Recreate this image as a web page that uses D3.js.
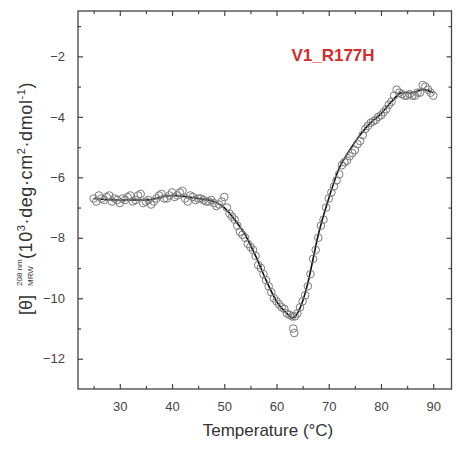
<!DOCTYPE html>
<html lang="en">
<head>
  <meta charset="UTF-8" />
  <title>V1_R177H thermal melt</title>
  <script src="https://d3js.org/d3.v7.min.js"></script>
  <style>
    body { margin: 0; background: #fff; }
    text { font-family: Arial, "Liberation Sans", sans-serif; fill: #333; }
    .frame { fill: none; stroke: #444; stroke-width: 1.3px; }
    .axis path { display: none; }
    .axis line { stroke: #444; stroke-width: 1.2px; }
    .axis text { font-size: 13px; fill: #444; }
  </style>
</head>
<body>
  <svg id="chart" width="456" height="450"></svg>

  <script>
    // measured points (temperature in °C, ellipticity in 10^3 deg cm2 dmol-1)
    const temps = [
      25, 25.5, 26, 26.5, 27, 27.5, 28, 28.5, 29, 29.5, 30, 30.5, 31, 31.5, 32, 32.5,
      33, 33.5, 34, 34.5, 35, 35.5, 36, 36.5, 37, 37.5, 38, 38.5, 39, 39.5, 40, 40.5,
      41, 41.5, 42, 42.5, 43, 43.5, 44, 44.5, 45, 45.5, 46, 46.5, 47, 47.5, 48, 48.5,
      49, 49.5, 50, 50.5, 51, 51.5, 52, 52.5, 53, 53.5, 54, 54.5, 55, 55.5, 56, 56.5,
      57, 57.5, 58, 58.5, 59, 59.5, 60, 60.5, 61, 61.5, 62, 62.5, 63, 63.2, 63.4, 63.5,
      64, 64.5, 65, 65.5, 66, 66.5, 67, 67.5, 68, 68.5, 69, 69.5, 70, 70.5, 71, 71.5,
      72, 72.5, 73, 73.5, 74, 74.5, 75, 75.5, 76, 76.5, 77, 77.5, 78, 78.5, 79, 79.5,
      80, 80.5, 81, 81.5, 82, 82.5, 83, 83.5, 84, 84.5, 85, 85.5, 86, 86.5, 87, 87.5,
      88, 88.5, 89, 89.5, 90];
    const theta = [
      -6.7, -6.8, -6.6, -6.7, -6.75, -6.65, -6.6, -6.8, -6.7, -6.75, -6.85, -6.7, -6.75, -6.65, -6.6, -6.8,
      -6.75, -6.6, -6.55, -6.85, -6.8, -6.75, -6.9, -6.8, -6.7, -6.6, -6.55, -6.7, -6.7, -6.6, -6.5, -6.65,
      -6.6, -6.5, -6.45, -6.7, -6.8, -6.6, -6.65, -6.75, -6.7, -6.7, -6.75, -6.8, -6.8, -6.75, -6.85, -6.95,
      -6.9, -6.8, -6.65, -7.0, -7.2, -7.3, -7.4, -7.6, -7.8, -7.9, -8.0, -8.2, -8.3, -8.4, -8.6, -8.9,
      -9.0, -9.2, -9.4, -9.6, -9.8, -10.0, -10.1, -10.2, -10.3, -10.35, -10.5, -10.55, -10.6, -11.0, -11.15, -10.6,
      -10.5, -10.3, -10.1, -9.9, -9.6, -9.2, -8.7, -8.4, -8.0, -7.6, -7.4, -7.0, -6.7, -6.5, -6.3, -6.1,
      -5.9, -5.6, -5.5, -5.45, -5.3, -5.2, -5.1, -4.9, -4.8, -4.6, -4.4, -4.3, -4.2, -4.15, -4.1, -4.0,
      -3.95, -3.85, -3.75, -3.6, -3.5, -3.3, -3.1, -3.2, -3.25, -3.3, -3.3, -3.25, -3.3, -3.3, -3.2, -3.2,
      -2.95, -3.0, -3.1, -3.2, -3.3];

    // fitted curve
    const fitT = [25, 30, 35, 40, 45, 48, 50, 52, 54, 56, 58, 60, 62, 63, 64, 65,
      66, 67, 68, 70, 72, 74, 76, 78, 80, 82, 84, 86, 88, 90];
    const fitV = [-6.7, -6.75, -6.75, -6.6, -6.7, -6.8, -7.0, -7.4, -7.9, -8.6,
      -9.4, -10.1, -10.5, -10.65, -10.5, -10.1, -9.5, -8.7, -7.9, -6.7, -5.7, -5.1,
      -4.6, -4.2, -3.9, -3.5, -3.2, -3.2, -3.1, -3.2];

    const xMajor = [30, 40, 50, 60, 70, 80, 90];
    const xMinor = [25, 35, 45, 55, 65, 75, 85];
    const yMajor = [-2, -4, -6, -8, -10, -12];
    const yMinor = [-1, -3, -5, -7, -9, -11];

    const mLeft = 78, mRight = 451.5, mTop = 11, mBottom = 389;

    const svg = d3.select("#chart");

    const x = d3.scaleLinear().domain([22, 93.5]).range([mLeft, mRight]);
    const y = d3.scaleLinear().domain([-13, -0.5]).range([mBottom, mTop]);

    // frame
    svg.append("rect")
      .attr("class", "frame")
      .attr("x", mLeft)
      .attr("y", mTop)
      .attr("width", mRight - mLeft)
      .attr("height", mBottom - mTop);

    // ticks on all four sides, pointing in
    function ticks(axisFn, scale, values, size, tx, ty, labels) {
      return svg.append("g")
        .attr("class", "axis")
        .attr("transform", `translate(${tx},${ty})`)
        .call(axisFn(scale).tickValues(values).tickSize(-size).tickPadding(size + 8)
          .tickFormat(labels ? d3.format("d") : ""));
    }
    ticks(d3.axisBottom, x, xMajor, 5, 0, mBottom, true);
    ticks(d3.axisBottom, x, xMinor, 3, 0, mBottom, false);
    ticks(d3.axisTop, x, xMajor, 5, 0, mTop, false);
    ticks(d3.axisTop, x, xMinor, 3, 0, mTop, false);
    ticks(d3.axisLeft, y, yMajor, 5, mLeft, 0, true);
    ticks(d3.axisLeft, y, yMinor, 3, mLeft, 0, false);
    ticks(d3.axisRight, y, yMajor, 5, mRight, 0, false);
    ticks(d3.axisRight, y, yMinor, 3, mRight, 0, false);

    // fit line
    const line = d3.line()
      .x(d => x(d[0]))
      .y(d => y(d[1]))
      .curve(d3.curveMonotoneX);
    svg.append("path")
      .datum(fitT.map((t, i) => [t, fitV[i]]))
      .attr("d", line)
      .attr("fill", "none")
      .attr("stroke", "#111")
      .attr("stroke-width", 1.6);

    // data circles
    svg.append("g")
      .selectAll("circle")
      .data(temps.map((t, i) => [t, theta[i]]))
      .join("circle")
      .attr("cx", d => x(d[0]))
      .attr("cy", d => y(d[1]))
      .attr("r", 3.8)
      .attr("fill", "none")
      .attr("stroke", "#7a7a7a")
      .attr("stroke-width", 1);

    // title
    svg.append("text")
      .attr("x", 333)
      .attr("y", 61)
      .attr("text-anchor", "middle")
      .style("font-size", "17px")
      .style("font-weight", "bold")
      .style("fill", "#d42b2b")
      .text("V1_R177H");

    // x axis title
    svg.append("text")
      .attr("x", 268)
      .attr("y", 436)
      .attr("text-anchor", "middle")
      .style("font-size", "17px")
      .text("Temperature (°C)");

    // y axis title, built from pieces
    const yl = svg.append("g").attr("transform", "translate(32,315) rotate(-90)");
    yl.append("text").attr("x", 0).attr("y", 0).style("font-size", "18px").text("[θ]");
    yl.append("text").attr("x", 29).attr("y", -10).style("font-size", "8px").text("208 nm");
    yl.append("text").attr("x", 29).attr("y", 1).style("font-size", "8px").text("MRW");
    const main = yl.append("text").attr("x", 56).attr("y", 0)
      .style("font-size", "18px").style("letter-spacing", "0.6px");
    main.append("tspan").text("(10");
    main.append("tspan").attr("dy", -7).style("font-size", "11px").text("3");
    main.append("tspan").attr("dy", 7).text("·deg·cm");
    main.append("tspan").attr("dy", -7).style("font-size", "11px").text("2");
    main.append("tspan").attr("dy", 7).text("·dmol");
    main.append("tspan").attr("dy", -7).style("font-size", "11px").text("-1");
    main.append("tspan").attr("dy", 7).text(")");
  </script>
</body>
</html>
